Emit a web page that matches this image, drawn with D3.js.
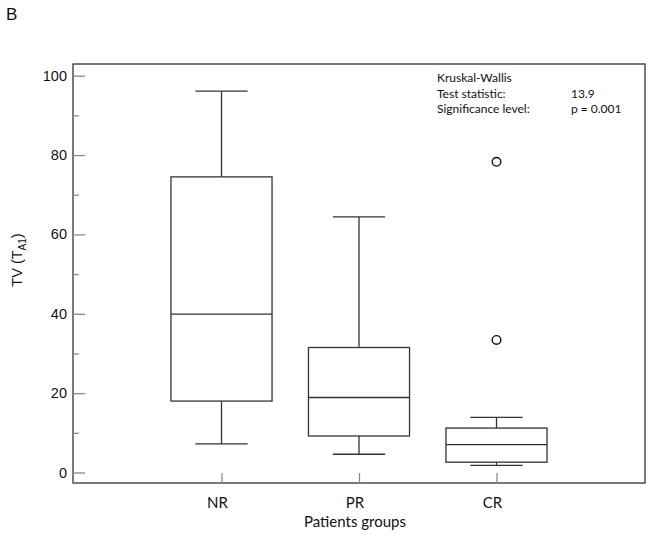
<!DOCTYPE html>
<html>
<head>
<meta charset="utf-8">
<script src="https://cdn.jsdelivr.net/npm/d3@7"></script>
<style>
    body { margin: 0; background: #fff; }
    #chart { width: 650px; height: 540px; }
</style>
</head>
<body>
<div id="chart"></div>
<script>
// values
const categories = ['NR', 'PR', 'CR'];
const whiskerLow = [7.2, 4.6, 1.8];
const quartile1 = [18.0, 9.2, 2.6];
const medians = [39.9, 18.9, 7.0];
const quartile3 = [74.5, 31.5, 11.2];
const whiskerHigh = [96.1, 64.4, 13.9];
const outliers = [[], [], [78.3, 33.4]];
const yMajorTicks = [0, 20, 40, 60, 80, 100];
const yMinorTicks = [10, 30, 50, 70, 90];
const statLines = [
    ['Kruskal-Wallis', ''],
    ['Test statistic:', '13.9'],
    ['Significance level:', 'p = 0.001']
];

class Chart {
    constructor() {
        const attrs = {
            svgWidth: 650,
            svgHeight: 540,
            marginTop: 64,
            marginBottom: 57,
            marginRight: 5,
            marginLeft: 73,
            container: '#chart',
            lineColor: '#333',
            tickColor: '#8a8a8a',
            axisFont: '"Liberation Sans", Arial, sans-serif',
            labelFont: 'Lato, "Open Sans", sans-serif'
        };
        this.getState = () => attrs;
        this.setState = (d) => Object.assign(attrs, d);
        this.initializeEnterExitUpdatePattern();
    }

    initializeEnterExitUpdatePattern() {
        d3.selection.prototype.patternify = function (params) {
            const selector = params.selector;
            const data = params.data || [selector];
            let selection = this.selectAll('.' + selector).data(data);
            selection.exit().remove();
            selection = selection.enter().append(params.tag).merge(selection);
            selection.attr('class', selector);
            return selection;
        };
    }

    render() {
        this.calculateProperties();
        this.drawSvgAndWrappers();
        this.drawAxes();
        this.drawBoxes();
        this.drawTexts();
    }

    calculateProperties() {
        const attrs = this.getState();
        const calc = {};
        calc.chartWidth = attrs.svgWidth - attrs.marginLeft - attrs.marginRight;
        calc.chartHeight = attrs.svgHeight - attrs.marginTop - attrs.marginBottom;
        this.setState({ calc });
    }

    drawSvgAndWrappers() {
        const { container, svgWidth, svgHeight, marginLeft, marginTop } = this.getState();
        const svg = d3.select(container)
            .patternify({ tag: 'svg', selector: 'svg-chart-container' })
            .attr('width', svgWidth)
            .attr('height', svgHeight);

        const chart = svg.patternify({ tag: 'g', selector: 'chart' })
            .attr('transform', `translate(${marginLeft},${marginTop})`);

        this.setState({ svg, chart });
    }

    drawAxes() {
        const { chart, lineColor, tickColor, axisFont, labelFont, calc: { chartWidth, chartHeight } } = this.getState();

        const xScale = d3.scalePoint().domain(categories).range([0, chartWidth]).padding(1.08);
        const yScale = d3.scaleLinear().domain([0, 100]).range([chartHeight - 10.5, 11.7]);

        // frame
        chart.patternify({ tag: 'rect', selector: 'frame' })
            .attr('x', 0).attr('y', 0)
            .attr('width', chartWidth).attr('height', chartHeight)
            .attr('fill', 'none')
            .attr('stroke', lineColor)
            .attr('stroke-width', 1.3);

        const yAxis = d3.axisRight(yScale).tickValues(yMajorTicks).tickSize(12).tickFormat('');
        const yMinor = d3.axisRight(yScale).tickValues(yMinorTicks).tickSize(6).tickFormat('');
        const xAxis = d3.axisTop(xScale).tickSize(10).tickFormat('');

        const yWrap = chart.patternify({ tag: 'g', selector: 'y-axis' }).call(yAxis);
        const yMinorWrap = chart.patternify({ tag: 'g', selector: 'y-minor' }).call(yMinor);
        const xWrap = chart.patternify({ tag: 'g', selector: 'x-axis' })
            .attr('transform', `translate(0,${chartHeight})`)
            .call(xAxis);

        [yWrap, yMinorWrap, xWrap].forEach(w => {
            w.selectAll('.domain').remove();
            w.selectAll('.tick line').attr('stroke', tickColor).attr('stroke-width', 1.3);
        });

        chart.patternify({ tag: 'text', selector: 'y-tick-label', data: yMajorTicks })
            .text(d => d)
            .attr('x', -6)
            .attr('y', d => yScale(d))
            .attr('dy', '0.35em')
            .attr('text-anchor', 'end')
            .attr('font-family', axisFont)
            .attr('font-size', 14.5)
            .attr('fill', '#111');

        chart.patternify({ tag: 'text', selector: 'x-tick-label', data: categories })
            .text(d => d)
            .attr('x', d => xScale(d) - 4)
            .attr('y', chartHeight + 25)
            .attr('text-anchor', 'middle')
            .attr('font-family', labelFont)
            .attr('font-size', 15)
            .attr('fill', '#111');

        this.setState({ xScale, yScale });
    }

    drawBoxes() {
        const { chart, xScale, yScale, lineColor } = this.getState();
        const step = xScale.step();
        const boxW = step * 0.735;
        const capW = step * 0.38;

        const boxes = categories.map((c, i) => ({
            x: xScale(c), lo: whiskerLow[i], q1: quartile1[i], med: medians[i],
            q3: quartile3[i], hi: whiskerHigh[i], out: outliers[i]
        }));

        const wrap = chart.patternify({ tag: 'g', selector: 'boxes' });
        const g = wrap.patternify({ tag: 'g', selector: 'box', data: boxes });

        g.patternify({ tag: 'line', selector: 'whisker-hi', data: d => [d] })
            .attr('x1', d => d.x).attr('x2', d => d.x)
            .attr('y1', d => yScale(d.q3)).attr('y2', d => yScale(d.hi));
        g.patternify({ tag: 'line', selector: 'whisker-lo', data: d => [d] })
            .attr('x1', d => d.x).attr('x2', d => d.x)
            .attr('y1', d => yScale(d.q1)).attr('y2', d => yScale(d.lo));
        g.patternify({ tag: 'line', selector: 'cap-hi', data: d => [d] })
            .attr('x1', d => d.x - capW / 2).attr('x2', d => d.x + capW / 2)
            .attr('y1', d => yScale(d.hi)).attr('y2', d => yScale(d.hi));
        g.patternify({ tag: 'line', selector: 'cap-lo', data: d => [d] })
            .attr('x1', d => d.x - capW / 2).attr('x2', d => d.x + capW / 2)
            .attr('y1', d => yScale(d.lo)).attr('y2', d => yScale(d.lo));
        g.patternify({ tag: 'rect', selector: 'iqr', data: d => [d] })
            .attr('x', d => d.x - boxW / 2).attr('width', boxW)
            .attr('y', d => yScale(d.q3)).attr('height', d => yScale(d.q1) - yScale(d.q3))
            .attr('fill', 'none');
        g.patternify({ tag: 'line', selector: 'median', data: d => [d] })
            .attr('x1', d => d.x - boxW / 2).attr('x2', d => d.x + boxW / 2)
            .attr('y1', d => yScale(d.med)).attr('y2', d => yScale(d.med));

        g.selectAll('line, rect')
            .attr('stroke', lineColor)
            .attr('stroke-width', 1.3);

        g.patternify({ tag: 'circle', selector: 'outlier', data: d => d.out.map(v => ({ x: d.x, v })) })
            .attr('cx', d => d.x)
            .attr('cy', d => yScale(d.v))
            .attr('r', 4.3)
            .attr('fill', 'none')
            .attr('stroke', '#111')
            .attr('stroke-width', 1.4);
    }

    drawTexts() {
        const { svg, chart, xScale, axisFont, labelFont, calc: { chartHeight } } = this.getState();

        svg.patternify({ tag: 'text', selector: 'panel-label' })
            .text('B')
            .attr('x', 6).attr('y', 20)
            .attr('font-family', axisFont)
            .attr('font-size', 17)
            .attr('fill', '#111');

        const yTitle = chart.patternify({ tag: 'text', selector: 'y-title' })
            .attr('transform', `translate(${-51},${196}) rotate(-90)`)
            .attr('text-anchor', 'middle')
            .attr('font-family', axisFont)
            .attr('font-size', 14.5)
            .attr('fill', '#111');
        yTitle.text('');
        yTitle.append('tspan').text('TV (T');
        yTitle.append('tspan').text('A1').attr('font-size', 10).attr('dy', 4);
        yTitle.append('tspan').text(')').attr('dy', -4);

        // title sits under the middle group label
        chart.patternify({ tag: 'text', selector: 'x-title' })
            .text('Patients groups')
            .attr('x', xScale(categories[1]) - 4)
            .attr('y', chartHeight + 44)
            .attr('text-anchor', 'middle')
            .attr('font-family', labelFont)
            .attr('font-size', 15)
            .attr('fill', '#111');

        const rows = chart.patternify({ tag: 'g', selector: 'stat-row', data: statLines })
            .attr('transform', (d, i) => `translate(${364},${18 + i * 15.5})`);
        rows.patternify({ tag: 'text', selector: 'stat-name', data: d => [d[0]] })
            .text(d => d)
            .attr('font-family', labelFont).attr('font-size', 12).attr('fill', '#111');
        rows.patternify({ tag: 'text', selector: 'stat-value', data: d => [d[1]] })
            .text(d => d)
            .attr('x', 134)
            .attr('font-family', labelFont).attr('font-size', 12).attr('fill', '#111');
    }
}

new Chart().render();
</script>
</body>
</html>
